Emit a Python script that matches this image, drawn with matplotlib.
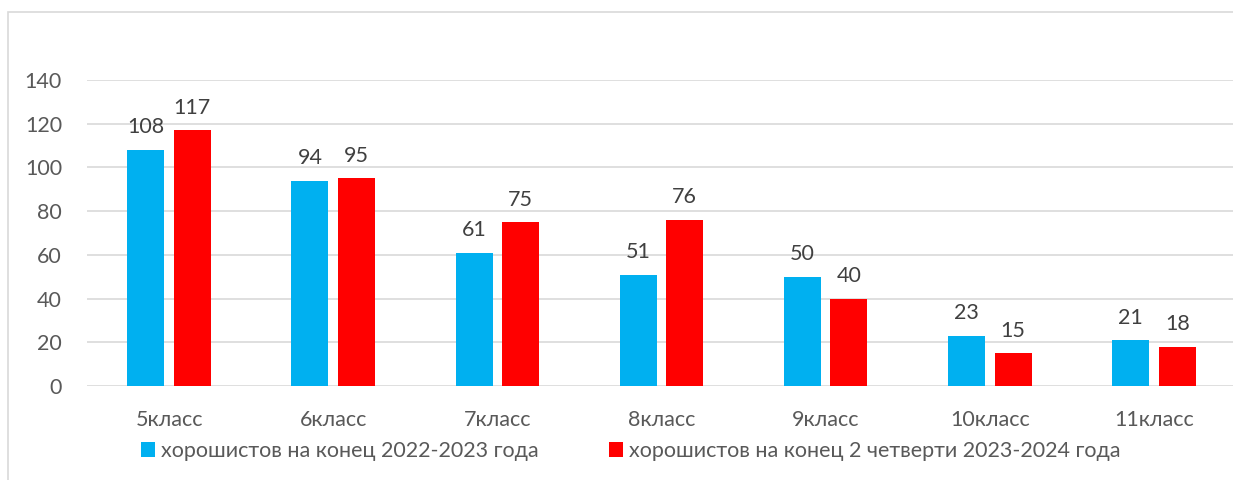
import numpy as np
import matplotlib
matplotlib.use("Agg")
import matplotlib.pyplot as plt
from matplotlib.patches import Rectangle

# данные
categories = ["5класс", "6класс", "7класс", "8класс", "9класс", "10класс", "11класс"]
vals_2023 = [108, 94, 61, 51, 50, 23, 21]
vals_2024 = [117, 95, 75, 76, 40, 15, 18]
label_2023 = "хорошистов на конец 2022-2023 года"
label_2024 = "хорошистов на конец 2 четверти 2023-2024 года"
yticks = [0, 20, 40, 60, 80, 100, 120, 140]

BLUE = "#00b0f0"
RED = "#ff0000"
TXT = "#595959"
GRID = "#d9d9d9"
FS = 15.5

plt.rcParams['font.family'] = ['Lato', 'DejaVu Sans']

W, H = 1233, 480
fig = plt.figure(figsize=(W / 100, H / 100), dpi=100, facecolor='white')

# рамка области диаграммы
fig.patches.append(Rectangle((8 / W, -0.1), 1.2, 1 - 12 / H + 0.1, transform=fig.transFigure,
                             fill=False, edgecolor=GRID, linewidth=1.2))

ax = fig.add_axes([87 / W, (H - 386) / H, (1236 - 87) / W, 306 / H])
x = np.arange(len(categories))
w = 0.225
off = 0.142
b1 = ax.bar(x - off, vals_2023, width=w, color=BLUE, label=label_2023, zorder=3)
b2 = ax.bar(x + off, vals_2024, width=w, color=RED, label=label_2024, zorder=3)

for bars in (b1, b2):
    for r in bars:
        ax.annotate(f"{int(r.get_height())}", (r.get_x() + r.get_width() / 2, r.get_height()),
                    xytext=(0, 9), textcoords='offset points', ha='center', va='bottom',
                    fontsize=FS, color='#404040')

ax.set_xlim(-0.5, len(categories) - 0.5)
ax.set_ylim(0, 140)
ax.set_yticks(yticks)
ax.set_xticks(x)
ax.set_xticklabels(categories)
ax.grid(axis='y', color=GRID, linewidth=1.2, zorder=0)
for s in ax.spines.values():
    s.set_visible(False)
ax.tick_params(axis='both', length=0, colors=TXT, labelsize=FS)
ax.tick_params(axis='x', pad=17)
ax.tick_params(axis='y', pad=18)

fig.legend(handles=[b1, b2], loc='center', bbox_to_anchor=(631 / W, 1 - 451 / H), ncol=2,
           frameon=False, fontsize=FS, labelcolor=TXT, handlelength=0.65, handleheight=0.65,
           handletextpad=0.28, columnspacing=3.25, borderpad=0, borderaxespad=0)

fig.savefig("out.png", dpi=100, facecolor='white')
